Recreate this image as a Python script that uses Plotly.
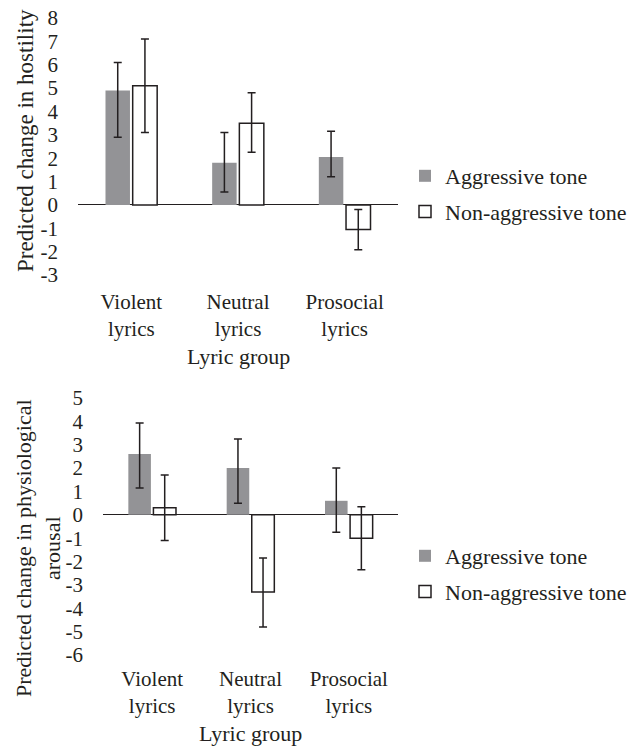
import plotly.graph_objects as go

categories = ["Violent<br>lyrics", "Neutral<br>lyrics", "Prosocial<br>lyrics"]

# Top panel: hostility
host_aggr = [4.9, 1.8, 2.05]
host_aggr_up = [1.2, 1.3, 1.1]
host_aggr_dn = [2.0, 1.25, 0.85]
host_non = [5.1, 3.5, -1.05]
host_non_up = [2.0, 1.3, 0.85]
host_non_dn = [2.0, 1.25, 0.87]

# Bottom panel: physiological arousal
arou_aggr = [2.6, 2.0, 0.6]
arou_aggr_up = [1.33, 1.25, 1.4]
arou_aggr_dn = [1.45, 1.5, 1.35]
arou_non = [0.3, -3.3, -1.0]
arou_non_up = [1.4, 1.45, 1.35]
arou_non_dn = [1.4, 1.5, 1.35]

top_ticks = list(range(-3, 9))
top_tick_text = [str(v) for v in top_ticks]
bot_ticks = list(range(-6, 6))
bot_tick_text = [str(v) for v in bot_ticks]

FONT = "Liberation Serif"
TXT = "#231f20"
GRAY = "#939396"
W, H = 638, 747

fig = go.Figure()

def err(up, dn):
    return dict(type="data", symmetric=False, array=up, arrayminus=dn,
                color="#231f20", thickness=1.5, width=4)

fig.add_trace(go.Bar(x=categories, y=host_aggr, name="Aggressive tone",
                     marker=dict(color=GRAY, line=dict(width=0)),
                     error_y=err(host_aggr_up, host_aggr_dn), legendgroup="a",
                     xaxis="x", yaxis="y", legend="legend"))
fig.add_trace(go.Bar(x=categories, y=host_non, name="Non-aggressive tone",
                     marker=dict(color="white", line=dict(color="#231f20", width=1.5)),
                     error_y=err(host_non_up, host_non_dn), legendgroup="b",
                     xaxis="x", yaxis="y", legend="legend"))
fig.add_trace(go.Bar(x=categories, y=arou_aggr, name="Aggressive tone",
                     marker=dict(color=GRAY, line=dict(width=0)),
                     error_y=err(arou_aggr_up, arou_aggr_dn), legendgroup="c",
                     xaxis="x2", yaxis="y2", legend="legend2"))
fig.add_trace(go.Bar(x=categories, y=arou_non, name="Non-aggressive tone",
                     marker=dict(color="white", line=dict(color="#231f20", width=1.5)),
                     error_y=err(arou_non_up, arou_non_dn), legendgroup="d",
                     xaxis="x2", yaxis="y2", legend="legend2"))

def px_x(p):
    return p / W

def px_y(p):
    return 1 - p / H

def font(size=22):
    return dict(family=FONT, size=size, color=TXT)

xcommon = dict(showline=False, showgrid=False, zeroline=False, ticks="",
               automargin=False, fixedrange=True)
ycommon = dict(showline=False, showgrid=False, zeroline=True, zerolinecolor="#231f20",
               zerolinewidth=1.2, ticks="", ticklabelstandoff=19, automargin=False,
               fixedrange=True)

def legend_at(ypx):
    return dict(x=px_x(405), y=px_y(ypx), font=font(22), bgcolor="rgba(0,0,0,0)",
                xanchor="left", yanchor="middle", tracegroupgap=4,
                traceorder="grouped", itemwidth=30)

fig.update_layout(
    width=W, height=H,
    margin=dict(l=0, r=0, t=0, b=0, autoexpand=False),
    paper_bgcolor="white", plot_bgcolor="white",
    barmode="group", bargap=0.49, bargroupgap=0.1,
    showlegend=True,
    xaxis=dict(domain=[px_x(78), px_x(398)], anchor="y", tickfont=font(21),
               ticklabelstandoff=12, **xcommon),
    yaxis=dict(domain=[px_y(275), px_y(18)], anchor="x", range=[-3, 8],
               tickvals=top_ticks, ticktext=top_tick_text, tickfont=font(21), **ycommon),
    xaxis2=dict(domain=[px_x(103), px_x(398)], anchor="y2", tickfont=font(21),
                ticklabelstandoff=9, **xcommon),
    yaxis2=dict(domain=[px_y(655), px_y(398)], anchor="x2", range=[-6, 5],
                tickvals=bot_ticks, ticktext=bot_tick_text, tickfont=font(21), **ycommon),
    legend=legend_at(194),
    legend2=legend_at(574),
    annotations=[
        dict(text="Predicted change in hostility", x=px_x(25), y=px_y(141),
             xref="paper", yref="paper", xanchor="center", yanchor="middle",
             textangle=-90, showarrow=False, font=font(23)),
        dict(text="Lyric group", x=px_x(238), y=px_y(357), xref="paper", yref="paper",
             xanchor="center", yanchor="middle", showarrow=False, font=font(22)),
        dict(text="Predicted change in physiological<br>arousal", x=px_x(38), y=px_y(548),
             xref="paper", yref="paper", xanchor="center", yanchor="middle",
             textangle=-90, showarrow=False, font=font(22)),
        dict(text="Lyric group", x=px_x(250), y=px_y(733), xref="paper", yref="paper",
             xanchor="center", yanchor="middle", showarrow=False, font=font(22)),
    ],
)

fig.write_html("out.html")
